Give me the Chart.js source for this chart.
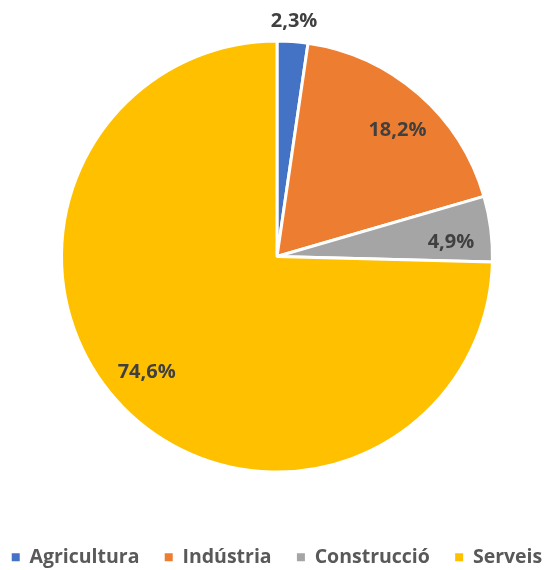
<!DOCTYPE html>
<html>
<head>
<meta charset="utf-8">
<script src="https://cdn.jsdelivr.net/npm/chart.js@4"></script>
<style>
html,body{margin:0;padding:0;background:#fff;}
#wrap{width:556px;height:570px;position:relative;}
</style>
</head>
<body>
<div id="wrap"><canvas id="c" width="556" height="570"></canvas></div>
<script>
const categories = ["Agricultura", "Indústria", "Construcció", "Serveis"];
const values = [2.3, 18.2, 4.9, 74.6];
const valueLabels = ["2,3%", "18,2%", "4,9%", "74,6%"];
const colors = ["#4472C4", "#ED7D31", "#A5A5A5", "#FFC000"];

const FONT = "'Open Sans', 'DejaVu Sans', sans-serif";

const labelPlugin = {
  id: 'sliceLabels',
  afterDatasetsDraw(chart) {
    const ctx = chart.ctx;
    const meta = chart.getDatasetMeta(0);
    ctx.save();
    ctx.font = "bold 20px " + FONT;
    ctx.fillStyle = "#404040";
    ctx.textAlign = "center";
    ctx.textBaseline = "middle";
    meta.data.forEach((arc, i) => {
      const p = arc.getProps(['x','y','startAngle','endAngle','outerRadius'], true);
      let mid = (p.startAngle + p.endAngle) / 2;
      let f;
      if (values[i] < 3) { f = 1.095; } else { f = 0.81; mid += 0.045; }
      const r = p.outerRadius * f;
      ctx.fillText(valueLabels[i], p.x + Math.cos(mid) * r, p.y + Math.sin(mid) * r);
    });
    ctx.restore();
  }
};

new Chart(document.getElementById('c'), {
  type: 'pie',
  data: {
    labels: categories,
    datasets: [{
      data: values,
      backgroundColor: colors,
      borderColor: "#ffffff",
      borderWidth: 3
    }]
  },
  options: {
    responsive: false,
    animation: false,
    layout: { padding: { top: 39.5, left: 0, right: 2, bottom: -7 } },
    plugins: {
      tooltip: { enabled: false },
      legend: {
        position: 'bottom',
        title: {
          display: true,
          text: ' ',
          font: { size: 10, lineHeight: 1 },
          padding: { top: 59, bottom: 0 }
        },
        labels: {
          boxWidth: 8,
          boxHeight: 8,
          padding: 5,
          color: "#595959",
          font: { family: FONT, size: 19.5, weight: 'bold', lineHeight: 1 },
          generateLabels(chart) {
            const items = Chart.overrides.pie.plugins.legend.labels.generateLabels(chart);
            items.forEach((it, i) => {
              it.strokeStyle = it.fillStyle;
              it.lineWidth = 0;
              if (i < items.length - 1) it.text = it.text + "    ";
            });
            return items;
          }
        }
      }
    }
  },
  plugins: [labelPlugin]
});
</script>
</body>
</html>
